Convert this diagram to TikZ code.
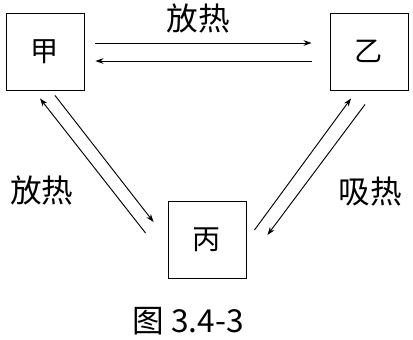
\documentclass[tikz,border=0pt]{standalone}
\usepackage{fontspec}
\newfontfamily\cjk{Noto Sans CJK SC}
\usetikzlibrary{arrows.meta, positioning, calc}

\begin{document}
\begin{tikzpicture}[
    x=0.03cm, y=-0.03cm,
    block/.style={rectangle, draw, line width=0.8pt, minimum width=2.34cm, minimum height=2.31cm, inner sep=0pt, font=\cjk\fontsize{24pt}{24pt}\selectfont},
    line/.style={draw, -{Stealth[length=2.4mm, width=1.7mm]}, line width=0.8pt},
    heat/.style={inner sep=0pt, font=\cjk\fontsize{27pt}{27pt}\selectfont},
    caption/.style={inner sep=0pt, font=\cjk\fontsize{27pt}{27pt}\selectfont}
]
\useasboundingbox (0,0) rectangle (413,340);

% Nodes
\node [block] (jia) at (45,51.5) {甲};
\node [block] (yi) at (369,51.5) {乙};
\node [block] (bing) at (207,240) {丙};

% Lines
\path [line] ($(jia.east)+(11,-8.5)$) -- ($(yi.west)+(-18,-8.5)$);
\path [line] ($(yi.west)+(-18,9.5)$) -- ($(jia.east)+(11,9.5)$);
\path [line] ($(bing.west)+(-22,-7)$) -- ($(jia.south)+(-5,8)$);
\path [line] ($(jia.south)+(10,5)$) -- ($(bing.west)+(-14,-18)$);
\path [line] ($(bing.east)+(8,-10)$) -- ($(yi.south)+(-18,8)$);
\path [line] ($(yi.south)+(-4,14)$) -- ($(bing.east)+(21,-5)$);

% Labels
\node [heat] (top) at (198,19) {放热};
\node [heat] (left) at (42,191) {放热};
\node [heat] (right) at (370,192) {吸热};
\node [caption] (cap) at (188,321) {图 3.4-3};

\end{tikzpicture}
\end{document}
